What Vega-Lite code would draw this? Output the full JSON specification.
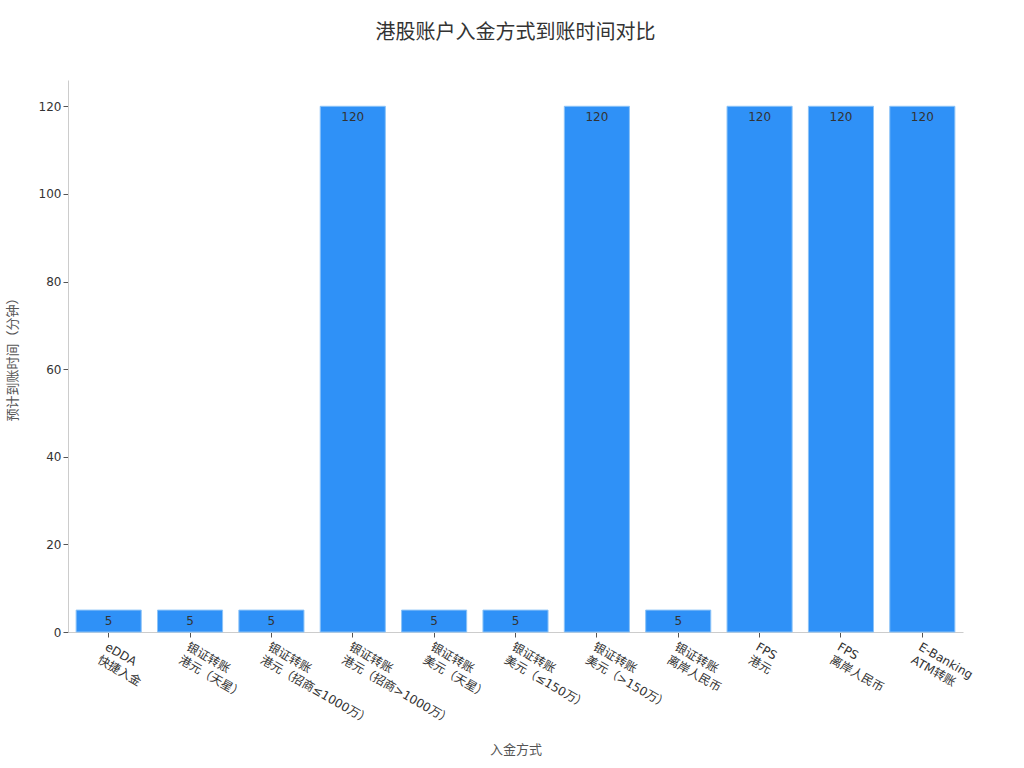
{
  "$schema": "https://vega.github.io/schema/vega-lite/v6.json",
  "description": "港股账户入金方式到账时间对比",
  "autosize": {"type": "none"},
  "padding": {"left": 68, "top": 80, "right": 61, "bottom": 136},
  "width": 895,
  "height": 552,
  "background": "white",
  "title": {
    "text": "港股账户入金方式到账时间对比",
    "anchor": "middle",
    "font": "Noto Sans CJK SC",
    "fontSize": 20,
    "fontWeight": "normal",
    "color": "#333333",
    "offset": 37
  },
  "data": {
    "values": [
      {"method": "eDDA\n快捷入金", "minutes": 5},
      {"method": "银证转账\n港元（天星）", "minutes": 5},
      {"method": "银证转账\n港元（招商≤1000万）", "minutes": 5},
      {"method": "银证转账\n港元（招商>1000万）", "minutes": 120},
      {"method": "银证转账\n美元（天星）", "minutes": 5},
      {"method": "银证转账\n美元（≤150万）", "minutes": 5},
      {"method": "银证转账\n美元（>150万）", "minutes": 120},
      {"method": "银证转账\n离岸人民币", "minutes": 5},
      {"method": "FPS\n港元", "minutes": 120},
      {"method": "FPS\n离岸人民币", "minutes": 120},
      {"method": "E-Banking\nATM转账", "minutes": 120}
    ]
  },
  "encoding": {
    "x": {
      "field": "method",
      "type": "nominal",
      "sort": null,
      "scale": {"paddingInner": 0.2, "paddingOuter": 0.1},
      "axis": {
        "title": "入金方式",
        "titleFont": "Noto Sans CJK SC",
        "titleFontSize": 13,
        "titleFontWeight": "normal",
        "titleColor": "#555555",
        "titleY": 111,
        "labelExpr": "split(datum.label, '\\n')",
        "labelAngle": 30,
        "labelAlign": "left",
        "labelBaseline": "top",
        "labelFont": "DejaVu Sans, Noto Sans CJK SC",
        "labelFontSize": 12,
        "labelColor": "#333333",
        "labelLineHeight": 15,
        "labelPadding": 4,
        "labelOverlap": false,
        "domainColor": "#cccccc",
        "tickColor": "#555555",
        "tickSize": 5
      }
    },
    "y": {
      "field": "minutes",
      "type": "quantitative",
      "scale": {"domain": [0, 126], "nice": false},
      "axis": {
        "title": "预计到账时间（分钟）",
        "titleFont": "Noto Sans CJK SC",
        "titleFontSize": 13,
        "titleFontWeight": "normal",
        "titleColor": "#555555",
        "titleX": -56,
        "titleBaseline": "middle",
        "values": [0, 20, 40, 60, 80, 100, 120],
        "grid": false,
        "labelFont": "DejaVu Sans",
        "labelFontSize": 12,
        "labelColor": "#333333",
        "domainColor": "#cccccc",
        "tickColor": "#555555",
        "tickSize": 5
      }
    }
  },
  "layer": [
    {
      "mark": {"type": "bar", "color": "#2F91F7", "stroke": "#8CC3F7", "strokeWidth": 1}
    },
    {
      "mark": {"type": "text", "baseline": "middle", "dy": 11, "font": "DejaVu Sans", "fontSize": 12, "color": "#333333"},
      "encoding": {"text": {"field": "minutes", "type": "quantitative"}}
    }
  ],
  "config": {"view": {"stroke": null}}
}
